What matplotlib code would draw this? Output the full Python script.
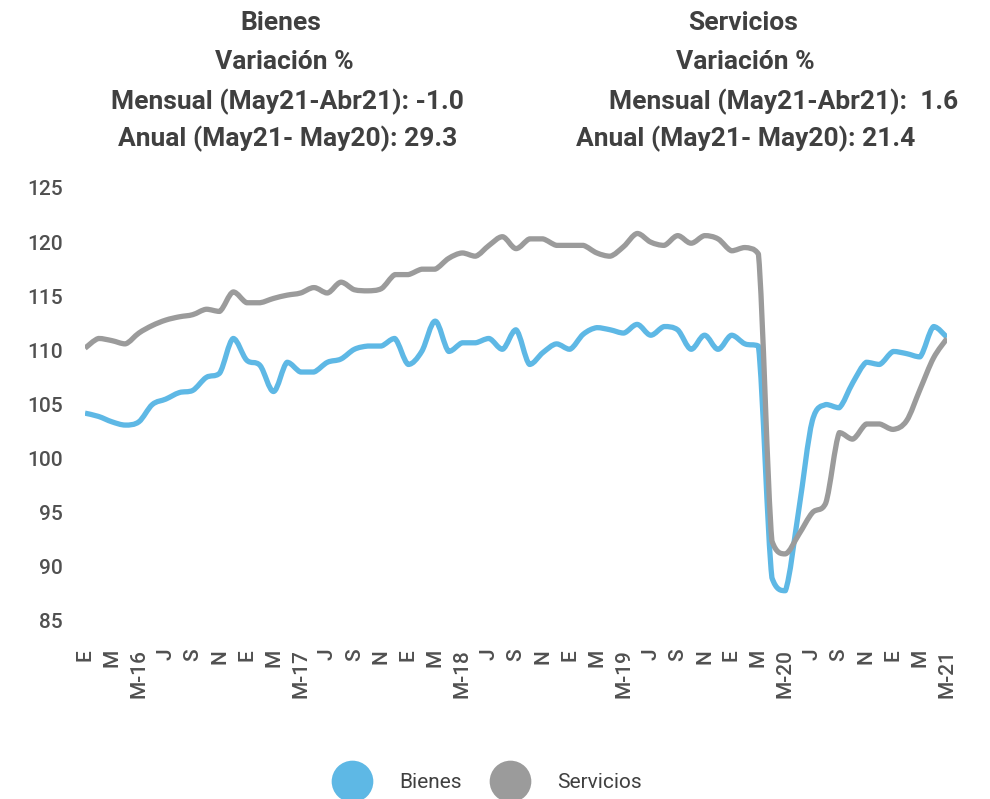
import matplotlib
matplotlib.use("Agg")
import matplotlib.pyplot as plt
from matplotlib.path import Path
from matplotlib.patches import PathPatch
from matplotlib.lines import Line2D
import numpy as np

plt.rcParams['font.family'] = ['Roboto', 'DejaVu Sans']

# Monthly index, Jan-2016 .. May-2021
tick_labels = ["E", "M", "M-16", "J", "S", "N",
               "E", "M", "M-17", "J", "S", "N",
               "E", "M", "M-18", "J", "S", "N",
               "E", "M", "M-19", "J", "S", "N",
               "E", "M", "M-20", "J", "S", "N",
               "E", "M", "M-21"]

bienes = [104.2, 103.9, 103.4, 103.1, 103.4, 105.0, 105.5, 106.1, 106.3, 107.5,
          107.9, 111.1, 109.1, 108.6, 106.2, 108.9, 108.0, 108.0, 108.9, 109.2,
          110.1, 110.4, 110.4, 111.1, 108.7, 109.9, 112.7, 109.9, 110.7, 110.7,
          111.1, 110.1, 111.9, 108.7, 109.8, 110.6, 110.1, 111.5, 112.1, 111.9,
          111.6, 112.4, 111.4, 112.2, 111.9, 110.1, 111.4, 110.1, 111.4, 110.6,
          110.4, 89.0, 87.8, 95.3, 103.5, 105.0, 104.7, 107.0, 108.9, 108.7,
          109.9, 109.7, 109.4, 112.2, 111.2]

servicios = [110.2, 111.1, 110.9, 110.6, 111.6, 112.3, 112.8, 113.1, 113.3, 113.8,
             113.6, 115.4, 114.4, 114.4, 114.8, 115.1, 115.3, 115.8, 115.3, 116.3,
             115.6, 115.5, 115.7, 117.0, 117.0, 117.5, 117.5, 118.5, 119.0, 118.7,
             119.7, 120.5, 119.4, 120.3, 120.3, 119.7, 119.7, 119.7, 119.0, 118.7,
             119.6, 120.8, 120.0, 119.7, 120.6, 119.9, 120.6, 120.3, 119.2, 119.5,
             118.9, 92.4, 91.2, 93.0, 95.0, 95.9, 102.4, 101.8, 103.2, 103.2,
             102.7, 103.5, 106.4, 109.3, 111.1]

series_names = ["Bienes", "Servicios"]
colors = ["#5EB8E5", "#9B9B9B"]

titles_left = ["Bienes", "Variación %", "Mensual (May21-Abr21): -1.0", "Anual (May21- May20): 29.3"]
titles_right = ["Servicios", "Variación %", "Mensual (May21-Abr21):  1.6", "Anual (May21- May20): 21.4"]

W, H = 990, 799
fig = plt.figure(figsize=(W / 100, H / 100), dpi=100)
ax = fig.add_axes([85 / W, 1 - 621 / H, (947 - 85) / W, (621 - 188) / H])


def smooth_path(x, y):
    """Bezier smoothing (Catmull-Rom tangents, clamped to avoid overshoot)."""
    x = np.asarray(x, float)
    y = np.asarray(y, float)
    n = len(x)
    verts = [(x[0], y[0])]
    codes = [Path.MOVETO]
    for i in range(n - 1):
        p0 = (x[max(i - 1, 0)], y[max(i - 1, 0)])
        p1 = (x[i], y[i])
        p2 = (x[i + 1], y[i + 1])
        p3 = (x[min(i + 2, n - 1)], y[min(i + 2, n - 1)])
        lo, hi = min(p1[1], p2[1]), max(p1[1], p2[1])
        c1 = (p1[0] + (p2[0] - p0[0]) / 6, float(np.clip(p1[1] + (p2[1] - p0[1]) / 6, lo, hi)))
        c2 = (p2[0] - (p3[0] - p1[0]) / 6, float(np.clip(p2[1] - (p3[1] - p1[1]) / 6, lo, hi)))
        verts += [c1, c2, p2]
        codes += [Path.CURVE4] * 3
    return Path(verts, codes)


xs = np.arange(len(bienes))
for k, (vals, col, name) in enumerate(zip([bienes, servicios], colors, series_names)):
    ax.add_patch(PathPatch(smooth_path(xs, vals), facecolor='none', edgecolor=col,
                           lw=3.8, capstyle='butt', joinstyle='round', label=name,
                           zorder=2 + k))
ax.set_xlim(0, len(bienes) - 1)
ax.set_ylim(85, 125)
ax.set_yticks(np.arange(85, 126, 5))
ax.set_xticks(np.arange(0, len(bienes), 2))
ax.set_xticklabels(tick_labels, rotation=90, va='top', ha='center')
ax.tick_params(axis='both', length=0, labelsize=15, labelcolor='#505050')
for lab in ax.get_xticklabels() + ax.get_yticklabels():
    lab.set_fontweight('medium')
ax.tick_params(axis='y', pad=16)
ax.tick_params(axis='x', pad=20)
for s in ax.spines.values():
    s.set_visible(False)

tcol = '#404040'
ys = [23, 62, 102, 139]
lx = [281, 284.5, 287, 287.5]
rx = [743, 745.5, 784, 746]
for t, x, y in zip(titles_left, lx, ys):
    fig.text(x / W, 1 - y / H, t, ha='center', va='center', fontsize=19,
             fontweight='bold', color=tcol)
for t, x, y in zip(titles_right, rx, ys):
    fig.text(x / W, 1 - y / H, t, ha='center', va='center', fontsize=19,
             fontweight='bold', color=tcol)

handles = [Line2D([], [], marker='o', ls='', ms=30, color=c, markeredgewidth=0) for c in colors]
fig.legend(handles, series_names, loc='center', bbox_to_anchor=(486.5 / W, 1 - 783 / H),
           ncol=2, frameon=False, fontsize=15, handlelength=2.0, handletextpad=1.26,
           columnspacing=1.31, labelcolor=tcol, borderpad=0)

fig.savefig("out.png", dpi=100)
